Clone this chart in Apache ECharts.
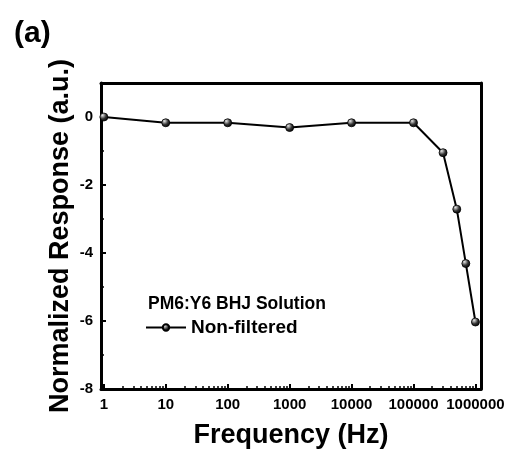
<!DOCTYPE html>
<html>
<head>
<meta charset="utf-8">
<script src="https://cdn.jsdelivr.net/npm/echarts@6/dist/echarts.min.js"></script>
<style>
  html, body { margin: 0; padding: 0; background: #fff; }
  #chart { width: 510px; height: 455px; }
</style>
</head>
<body>
<div id="chart"></div>
<script>
// Frequency response of the PM6:Y6 BHJ solution photodetector
const frequencies = [1, 10, 100, 1000, 10000, 100000, 300000, 500000, 700000, 1000000];
const response = [0, -0.17, -0.17, -0.31, -0.17, -0.17, -1.05, -2.71, -4.31, -6.03];
const yTicks = [-8, -6, -4, -2, 0];
const seriesName = 'Non-filtered';
const sampleName = 'PM6:Y6 BHJ Solution';

const FONT = '"Liberation Sans", Arial, sans-serif';
const chart = echarts.init(document.getElementById('chart'), null, { renderer: 'canvas' });

const sphere = {
  type: 'radial', x: 0.35, y: 0.3, r: 0.75,
  colorStops: [{ offset: 0, color: '#e8e8e8' }, { offset: 0.55, color: '#333' }, { offset: 1, color: '#000' }]
};

chart.setOption({
  backgroundColor: '#fff',
  animation: false,
  title: [
    { text: '(a)', left: 9, top: 14, textStyle: { fontFamily: FONT, fontWeight: 'bold', fontSize: 30, color: '#000' } },
    { text: sampleName, left: 143, top: 290, textStyle: { fontFamily: FONT, fontWeight: 'bold', fontSize: 17.5, color: '#000' } }
  ],
  legend: {
    data: [seriesName], left: 140, top: 313, itemWidth: 40, itemHeight: 8, itemGap: 4,
    textStyle: { fontFamily: FONT, fontWeight: 'bold', fontSize: 19, color: '#000' }
  },
  grid: { left: 101, right: 29, top: 83, bottom: 66 },
  xAxis: [{
    type: 'log', logBase: 10, min: 0.9, max: 1230000,
    name: 'Frequency (Hz)', nameLocation: 'middle', nameGap: 33, nameMoveOverlap: false,
    nameTextStyle: { fontFamily: FONT, fontWeight: 'bold', fontSize: 27, color: '#000' },
    axisLine: { show: true, onZero: false, lineStyle: { color: '#000', width: 3 } },
    axisTick: { show: true, inside: true, length: 5, lineStyle: { color: '#000', width: 2 } },
    minorTick: { show: true, splitNumber: 9, length: 3, lineStyle: { color: '#000', width: 1.5 } },
    axisLabel: { showMinLabel: false, showMaxLabel: false, margin: 8, fontFamily: FONT, fontWeight: 'bold', fontSize: 15, color: '#000',
      formatter: v => String(Math.round(v)) },
    splitLine: { show: false }
  }, {
    type: 'value', position: 'top', min: 0, max: 1,
    axisLine: { show: true, onZero: false, lineStyle: { color: '#000', width: 3 } },
    axisTick: { show: false }, axisLabel: { show: false }, splitLine: { show: false }
  }],
  yAxis: [{
    type: 'value', min: -8, max: 1, interval: 2,
    name: 'Normalized Response (a.u.)', nameLocation: 'middle', nameGap: 27, nameMoveOverlap: false,
    nameTextStyle: { fontFamily: FONT, fontWeight: 'bold', fontSize: 27, color: '#000' },
    axisLine: { show: true, onZero: false, lineStyle: { color: '#000', width: 3 } },
    axisTick: { show: true, inside: true, length: 5, lineStyle: { color: '#000', width: 2 } },
    minorTick: { show: true, splitNumber: 2, length: 3, lineStyle: { color: '#000', width: 1.5 } },
    axisLabel: { margin: 8, fontFamily: FONT, fontWeight: 'bold', fontSize: 15, color: '#000',
      formatter: v => (yTicks.indexOf(v) >= 0 ? String(v) : '') },
    splitLine: { show: false }
  }, {
    type: 'value', position: 'right', min: 0, max: 1,
    axisLine: { show: true, onZero: false, lineStyle: { color: '#000', width: 3 } },
    axisTick: { show: false }, axisLabel: { show: false }, splitLine: { show: false }
  }],
  series: [{
    name: seriesName, type: 'line', xAxisIndex: 0, yAxisIndex: 0,
    data: frequencies.map((f, i) => [f, response[i]]),
    symbol: 'circle', symbolSize: 8,
    lineStyle: { color: '#000', width: 2 },
    itemStyle: { color: sphere, borderColor: '#000', borderWidth: 0.8 }
  }]
});
</script>
</body>
</html>
